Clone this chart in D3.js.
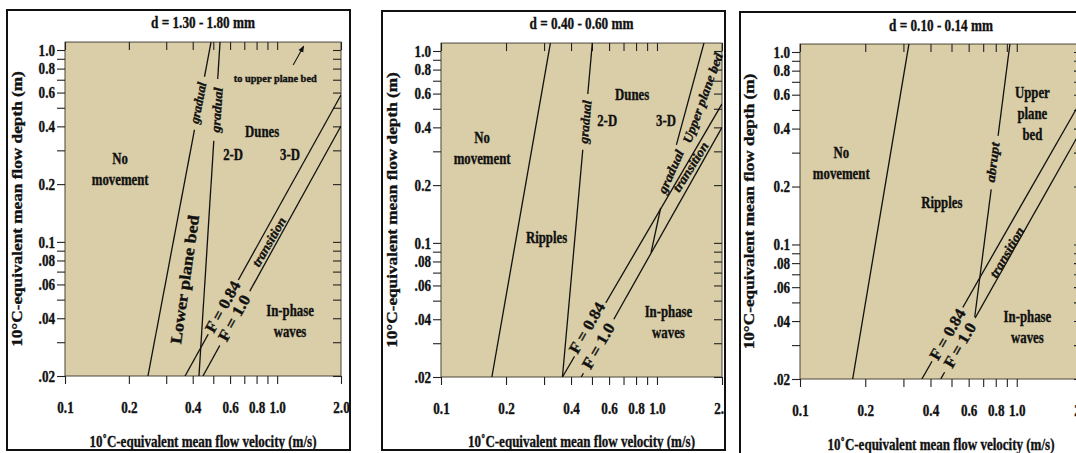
<!DOCTYPE html>
<html>
<head>
<meta charset="utf-8">
<script src="https://cdn.jsdelivr.net/npm/d3@7"></script>
<style>
    body { margin: 0; background: #fff; }
    text { font-family: "Liberation Serif", "Times New Roman", serif; font-weight: bold; fill: #111; stroke: #111; stroke-width: 0.35px; }
</style>
</head>
<body>
<div id="chart"></div>
<script>

// ---- data (velocity m/s, depth m) ----
const panelTitles = ["d = 1.30 - 1.80 mm", "d = 0.40 - 0.60 mm", "d = 0.10 - 0.14 mm"];

const xTicks = [0.1, 0.2, 0.3, 0.4, 0.5, 0.6, 0.7, 0.8, 0.9, 1.0, 2.0];
const xLabelValues = [0.1, 0.2, 0.4, 0.6, 0.8, 1.0, 2.0];
const xLabelTexts = ["0.1", "0.2", "0.4", "0.6", "0.8", "1.0", "2.0"];

const yTicks = [0.02, 0.03, 0.04, 0.05, 0.06, 0.07, 0.08, 0.09, 0.1, 0.2, 0.3, 0.4, 0.5, 0.6, 0.7, 0.8, 0.9, 1.0];
const yLabelValues = [0.02, 0.04, 0.06, 0.08, 0.1, 0.2, 0.4, 0.6, 0.8, 1.0];
const yLabelTexts = [".02", ".04", ".06", ".08", "0.1", "0.2", "0.4", "0.6", "0.8", "1.0"];

// boundaries, coarse sand
const coarseNoMove = [[0.246, 0.02], [0.488, 1.1]];
const coarseLowerPlane = [[0.428, 0.02], [0.538, 1.1]];
const coarseF084 = [[0.368, 0.02], [2.0, 0.583]];
const coarseF10 = [[0.447, 0.02], [2.0, 0.402]];

// boundaries, medium sand
const mediumNoMove = [[0.172, 0.02], [0.321, 1.1]];
const mediumRipples = [[0.365, 0.02], [0.502, 1.1]];
const mediumF084 = [[0.365, 0.02], [2.0, 0.53]];
const mediumF10 = [[0.446, 0.02], [2.0, 0.40]];
const mediumUpperPlane = [[1.23, 0.324], [1.65, 1.1]];
const mediumTransition = [[0.939, 0.089], [1.04, 0.152]];

// boundaries, fine sand
const fineNoMove = [[0.175, 0.02], [0.318, 1.1]];
const fineAbrupt = [[0.64, 0.042], [0.93, 1.1]];
const fineF084 = [[0.365, 0.02], [2.0, 0.57]];
const fineF10 = [[0.446, 0.02], [2.0, 0.40]];

// ---- layout ----
const W = 1076, H = 453;
const plotFill = "#d9cea7";

const panels = [
    {frame: [7, 10, 350, 450], x0: 65, x1: 341, yTop: 50, yBot: 376, titleY: 22, xLabY: 407, xTitleY: 442, yTitleX: 17,
        lines: [coarseNoMove, coarseLowerPlane, coarseF084, coarseF10],
        labels: [
            {t: "No|movement", v: 0.182, d: 0.24},
            {t: "Dunes", v: 0.85, d: 0.378},
            {t: "2-D", v: 0.62, d: 0.284},
            {t: "3-D", v: 1.15, d: 0.284},
            {t: "In-phase|waves", v: 1.15, d: 0.0386},
            {t: "to upper plane bed", v: 0.98, d: 0.715, size: 11, len: 83},
            {t: "Lower plane bed", v: 0.368, d: 0.0636, rot: -82, size: 16, len: 130},
            {t: "gradual", v: 0.424, d: 0.53, rot: -79, size: 13, italic: true, len: 42, mask: 54},
            {t: "gradual", v: 0.52, d: 0.487, rot: -86, size: 13, italic: true, len: 45, mask: 62},
            {t: "transition", v: 0.915, d: 0.1, rot: -60, size: 13, italic: true, len: 55},
            {t: "F = 0.84", v: 0.556, d: 0.0458, rot: -61, size: 16, len: 56, mask: 62},
            {t: "F = 1.0", v: 0.627, d: 0.0401, rot: -61, size: 16, len: 50, mask: 62}
        ],
        arrow: [[1.19, 0.835], [1.33, 1.04]]},
    {frame: [382, 11, 725, 450], x0: 441, x1: 722, yTop: 51, yBot: 377, titleY: 23, xLabY: 408, xTitleY: 442, yTitleX: 392,
        lines: [mediumNoMove, mediumRipples, mediumF084, mediumF10, mediumUpperPlane, mediumTransition],
        labels: [
            {t: "No|movement", v: 0.155, d: 0.314},
            {t: "Dunes", v: 0.767, d: 0.597},
            {t: "2-D", v: 0.588, d: 0.437},
            {t: "3-D", v: 1.1, d: 0.437},
            {t: "Ripples", v: 0.308, d: 0.107},
            {t: "In-phase|waves", v: 1.13, d: 0.0386},
            {t: "gradual", v: 0.465, d: 0.427, rot: -85, size: 13, italic: true, len: 43, mask: 56},
            {t: "Upper plane bed", v: 1.63, d: 0.569, rot: -70, size: 13, italic: true, len: 95},
            {t: "gradual", v: 1.16, d: 0.235, rot: -66, size: 13, italic: true, len: 46},
            {t: "transition", v: 1.43, d: 0.249, rot: -58, size: 13, italic: true, len: 56},
            {t: "F = 0.84", v: 0.476, d: 0.036, rot: -60, size: 16, len: 56, mask: 62},
            {t: "F = 1.0", v: 0.535, d: 0.029, rot: -60, size: 16, len: 50, mask: 62}
        ]},
    {frame: [740, 12, 1095, 460], x0: 800, x1: 1082, yTop: 52, yBot: 379, titleY: 25, xLabY: 410, xTitleY: 445, yTitleX: 749,
        lines: [fineNoMove, fineAbrupt, fineF084, fineF10],
        labels: [
            {t: "No|movement", v: 0.155, d: 0.266},
            {t: "Ripples", v: 0.451, d: 0.165},
            {t: "Upper|plane|bed", v: 1.18, d: 0.478},
            {t: "In-phase|waves", v: 1.12, d: 0.0373},
            {t: "abrupt", v: 0.775, d: 0.267, rot: -83, size: 13, italic: true, len: 40, mask: 54},
            {t: "transition", v: 0.9, d: 0.091, rot: -60, size: 13, italic: true, len: 56},
            {t: "F = 0.84", v: 0.481, d: 0.034, rot: -60, size: 16, len: 56, mask: 62},
            {t: "F = 1.0", v: 0.546, d: 0.030, rot: -60, size: 16, len: 49, mask: 62}
        ]}
];

const svg = d3.select("#chart").append("svg")
    .attr("width", W)
    .attr("height", H)
    .style("display", "block");

const defs = svg.append("defs");
defs.append("marker")
    .attr("id", "arrowHead")
    .attr("viewBox", "0 0 10 10")
    .attr("refX", 8).attr("refY", 5)
    .attr("markerWidth", 6).attr("markerHeight", 6)
    .attr("orient", "auto")
    .append("path")
    .attr("d", "M0,1 L10,5 L0,9 Z")
    .attr("fill", "#111");

// helper: centred (optionally multi-line, rotated, squeezed) label
function placeText(parent, x, y, str, o) {
    o = o || {};
    const size = o.size || 16;
    const g = parent.append("g")
        .attr("transform", `translate(${x},${y}) rotate(${o.rot || 0})`);
    const rows = str.split("|");
    const lh = o.lh || 21;
    if (o.mask) {
        g.append("rect")
            .attr("x", -o.mask / 2).attr("y", -size * 0.4)
            .attr("width", o.mask).attr("height", size * 0.8)
            .attr("fill", plotFill);
    }
    rows.forEach((r, i) => {
        const t = g.append("text")
            .attr("text-anchor", "middle")
            .attr("dominant-baseline", "central")
            .attr("y", (i - (rows.length - 1) / 2) * lh)
            .style("font-size", size + "px")
            .style("font-style", o.italic ? "italic" : "normal")
            .text(r);
        const w = t.node().getComputedTextLength();
        const s = o.len ? o.len / w : (o.sx || 0.8);
        t.attr("transform", `scale(${s},1)`);
    });
    return g;
}

panels.forEach((p, i) => {
    const [fx0, fy0, fx1, fy1] = p.frame;

    const x = d3.scaleLog().domain([0.1, 2.0]).range([p.x0, p.x1]);
    const y = d3.scaleLog().domain([0.02, 1.0]).range([p.yBot, p.yTop]);
    const plotTop = y(1.1);

    const clipId = "frameClip" + i;
    defs.append("clipPath").attr("id", clipId)
        .append("rect")
        .attr("x", fx0).attr("y", fy0)
        .attr("width", fx1 - fx0).attr("height", fy1 - fy0);
    const plotClip = "plotClip" + i;
    defs.append("clipPath").attr("id", plotClip)
        .append("rect")
        .attr("x", p.x0).attr("y", plotTop)
        .attr("width", p.x1 - p.x0).attr("height", p.yBot - plotTop);

    const panel = svg.append("g").attr("clip-path", `url(#${clipId})`);

    // plot background
    panel.append("rect")
        .attr("x", p.x0).attr("y", plotTop)
        .attr("width", p.x1 - p.x0).attr("height", p.yBot - plotTop)
        .attr("fill", plotFill)
        .attr("stroke", "#4a4538")
        .attr("stroke-width", 1);

    // axes
    const xFmt = v => {
        const k = xLabelValues.findIndex(u => Math.abs(u - v) < 1e-9);
        return k >= 0 ? xLabelTexts[k] : "";
    };
    const yFmt = v => {
        const k = yLabelValues.findIndex(u => Math.abs(u - v) < 1e-9);
        return k >= 0 ? yLabelTexts[k] : "";
    };

    const bottom = panel.append("g")
        .attr("transform", `translate(0,${p.yBot})`)
        .call(d3.axisBottom(x).tickValues(xTicks).tickSize(8).tickFormat(xFmt));

    const top = panel.append("g")
        .attr("transform", `translate(0,${plotTop})`)
        .call(d3.axisBottom(x).tickValues(xTicks).tickSize(8).tickFormat(""));

    const left = panel.append("g")
        .attr("transform", `translate(${p.x0},0)`)
        .call(d3.axisLeft(y).tickValues(yTicks).tickSize(8).tickPadding(2).tickFormat(yFmt));

    const right = panel.append("g")
        .attr("transform", `translate(${p.x1},0)`)
        .call(d3.axisLeft(y).tickValues(yTicks).tickSize(8).tickFormat(""));

    [bottom, top, left, right].forEach(a => {
        a.select(".domain").remove();
        a.attr("font-family", null).attr("font-size", null);
        a.selectAll("line").attr("stroke", "#222").attr("stroke-width", 1.1);
        a.selectAll("text").attr("fill", "#111").style("font-size", "16px");
    });

    // squeeze tick labels the way the scanned figure is squeezed
    bottom.selectAll("text")
        .attr("y", null)
        .attr("dy", "0.35em")
        .attr("transform", `translate(0,${p.xLabY - p.yBot}) scale(0.82,1)`);
    left.selectAll("text")
        .attr("x", null)
        .attr("transform", "translate(-10,0) scale(0.82,1)");

    // boundaries
    const line = d3.line().x(d => x(d[0])).y(d => y(d[1]));
    panel.append("g")
        .attr("clip-path", `url(#${plotClip})`)
        .selectAll("path")
        .data(p.lines)
        .join("path")
        .attr("d", line)
        .attr("fill", "none")
        .attr("stroke", "#111")
        .attr("stroke-width", 1.3);

    if (p.arrow) {
        panel.append("path")
            .attr("d", line(p.arrow))
            .attr("stroke", "#111")
            .attr("stroke-width", 1.1)
            .attr("marker-end", "url(#arrowHead)");
    }

    // region labels
    p.labels.forEach(l => placeText(panel, x(l.v), y(l.d), l.t, l));

    // titles
    const cx = (p.x0 + p.x1) / 2;
    placeText(panel, cx, p.titleY, panelTitles[i], {size: 17, len: 104});
    placeText(panel, cx, p.xTitleY, "10\u02daC-equivalent mean flow velocity (m/s)", {size: 16, len: 227});
    placeText(panel, p.yTitleX, (plotTop + p.yBot) / 2, "10\u00b0C-equivalent mean flow depth (m)", {size: 15, rot: -90, len: 276});

    // frame
    svg.append("rect")
        .attr("x", fx0).attr("y", fy0)
        .attr("width", fx1 - fx0).attr("height", fy1 - fy0)
        .attr("fill", "none")
        .attr("stroke", "#111")
        .attr("stroke-width", 2);
});

</script>
</body>
</html>
